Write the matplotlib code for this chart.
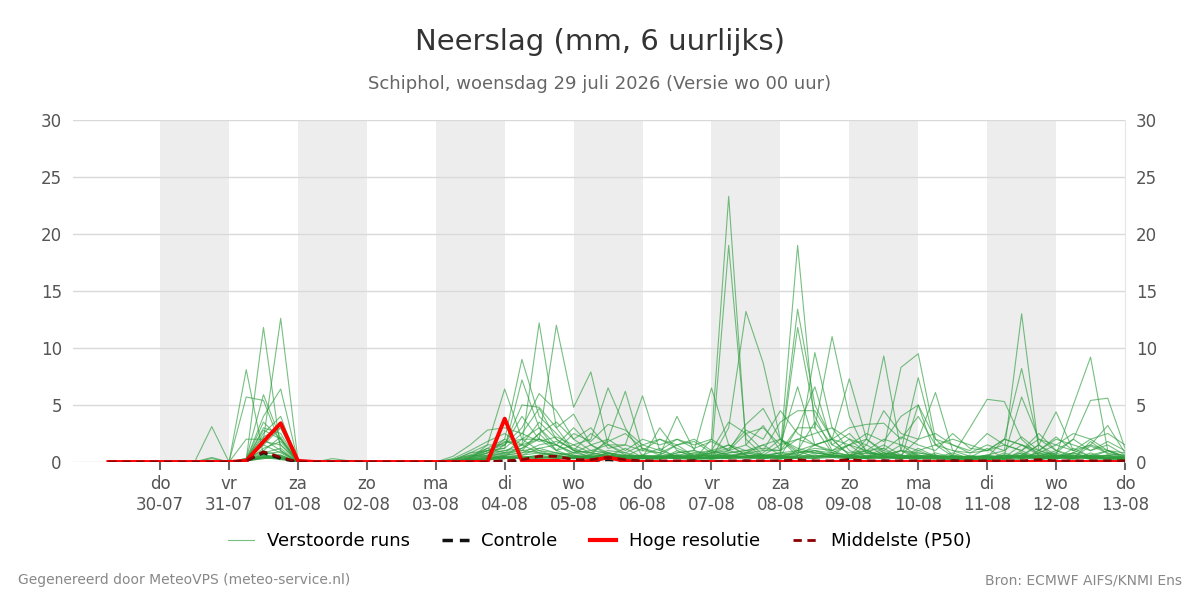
import numpy as np
import pandas as pd
import matplotlib
matplotlib.use("Agg")
import matplotlib.pyplot as plt
from matplotlib.lines import Line2D

# 6-hourly time steps, 29-07 06:00 .. 13-08 00:00
times = pd.date_range("2026-07-29 06:00", "2026-08-13 00:00", freq="6h")

# perturbed ensemble members (mm per 6 h)
members = [
    [0,0,0, 0,0,0,3.1, 0,0.1,0.4,0.2, 0,0,0,0, 0,0,0,0, 0,0,0.3,1.5, 6.4,2.0,3.0,1.0, 0.5,0.3,0.8,0.2, 0.1,0.5,0.3,0.2, 2.0,23.3,1.5,0.5, 0.2,1.0,0.4,0.8, 0.3,0.5,1.2,0.4, 0.2,0.1,0.3,0.5, 0.4,0.2,1.0,0.3, 0.5,0.2,0.8,0.3, 0.2],
    [0,0,0, 0,0,0,0.4, 0,8.1,0.6,0.3, 0.1,0,0,0, 0,0,0,0, 0,0,0.2,0.8, 2.0,9.0,4.0,2.5, 1.0,0.4,0.2,0.6, 0.3,0.2,1.0,0.4, 0.5,19.0,2.0,0.6, 0.3,0.5,1.5,2.0, 0.6,0.3,0.8,0.2, 1.0,0.4,0.2,0.3, 0.1,0.6,0.4,0.8, 0.3,1.2,0.5,0.2, 0.4],
    [0,0,0, 0,0,0,0, 0,0.2,11.8,1.0, 0,0,0,0, 0,0,0,0, 0,0.1,0.5,1.0, 1.2,7.2,3.0,1.5, 0.8,1.5,0.6,0.3, 0.6,1.2,0.4,0.2, 0.3,3.0,13.2,8.7, 2.0,0.8,1.0,0.5, 0.4,1.5,0.6,1.0, 0.3,0.8,0.4,0.2, 0.5,0.3,0.2,1.0, 0.6,0.4,1.4,0.8, 0.3],
    [0,0,0, 0,0,0,0, 0,0,2.0,12.6, 0.2,0,0,0, 0,0,0,0, 0,0,0,0.4, 0.5,1.5,12.2,3.0, 1.0,0.8,0.5,1.2, 0.4,0.3,0.8,1.0, 0.6,0.8,1.0,1.2, 1.0,19.0,3.0,0.8, 1.5,0.4,0.3,1.0, 0.8,0.5,0.3,0.2, 0.3,0.4,1.5,0.6, 0.2,0.8,0.4,1.0, 0.5],
    [0,0,0, 0,0,0,0, 0,5.7,5.4,1.5, 0.1,0,0,0.1, 0,0,0,0, 0,0,0.4,1.2, 0.8,2.0,2.0,12.0, 4.8,7.9,1.5,0.6, 0.5,0.4,0.3,0.8, 0.4,1.0,0.6,0.5, 0.8,13.4,5.0,2.0, 0.6,1.0,0.5,0.3, 0.4,0.2,0.6,0.4, 0.2,0.8,0.3,0.5, 1.0,0.4,0.3,0.6, 0.2],
    [0,0,0, 0,0,0,0, 0,0.3,5.9,2.0, 0,0,0,0, 0,0,0,0, 0,0.2,0.6,0.5, 1.5,3.0,6.0,4.5, 2.0,1.0,0.8,0.4, 0.3,0.6,1.5,0.5, 0.2,0.5,0.8,1.5, 0.6,11.8,4.0,1.0, 2.0,0.8,0.6,1.5, 0.5,0.6,0.2,0.4, 1.2,0.3,0.8,0.2, 0.4,0.3,1.8,0.7, 0.6],
    [0,0,0, 0,0,0,0, 0,0.2,4.0,6.4, 0.1,0,0,0, 0,0,0,0, 0,0,0.3,0.6, 0.8,1.2,2.5,1.0, 1.5,2.0,6.5,3.0, 0.5,0.4,0.6,0.3, 1.0,0.6,0.4,0.8, 2.0,0.5,9.6,3.0, 1.0,0.5,0.8,0.4, 0.6,0.4,0.3,0.2, 0.5,0.2,0.6,1.5, 0.3,0.6,0.2,0.4, 0.3],
    [0,0,0, 0,0,0,0, 0,0.1,2.5,4.0, 0,0,0,0, 0,0,0,0, 0,0,0.2,0.3, 0.6,0.8,1.5,1.8, 1.2,0.6,2.0,6.2, 1.0,0.8,0.4,0.3, 0.8,1.5,0.6,0.4, 0.5,3.0,3.0,11.0, 4.0,0.8,0.6,0.3, 1.2,0.5,0.3,0.2, 0.4,0.6,0.3,0.8, 0.5,0.4,0.3,0.2, 0.1],
    [0,0,0, 0,0,0,0, 0,0.2,3.5,2.0, 0,0,0,0, 0,0,0,0, 0,0,0.4,0.8, 1.0,1.2,2.0,1.5, 0.8,1.0,1.5,1.5, 5.8,1.0,0.5,0.4, 0.3,0.8,1.0,0.6, 0.8,1.0,1.5,2.0, 7.3,2.0,0.8,0.5, 0.6,0.4,0.8,0.3, 0.3,0.5,0.4,0.6, 0.8,0.3,0.5,0.4, 0.2],
    [0,0,0, 0,0,0,0, 0,0.3,2.2,3.0, 0,0,0,0, 0,0,0,0, 0,0.2,0.8,1.5, 1.5,5.0,4.8,3.0, 4.2,1.5,0.8,0.5, 0.6,0.5,0.8,1.0, 6.5,1.5,0.6,0.4, 0.5,0.8,1.0,0.6, 0.4,0.8,1.5,0.6, 0.3,0.6,0.4,0.5, 0.2,0.3,0.5,0.4, 0.6,0.5,0.3,0.4, 0.5],
    [0,0,0, 0,0,0,0, 0,2.0,2.0,1.0, 0,0,0,0, 0,0,0,0, 0,0.5,1.5,2.8, 3.0,2.5,4.7,2.0, 1.0,0.8,0.6,0.4, 0.3,0.4,0.6,0.5, 0.8,1.0,3.3,4.7, 2.0,1.2,0.8,0.6, 0.5,1.0,0.4,0.3, 0.8,0.6,0.4,0.3, 0.6,0.4,0.8,0.3, 0.4,0.3,0.6,1.0, 0.4],
    [0,0,0, 0,0,0,0, 0,0.1,1.2,1.8, 0,0,0,0, 0,0,0,0, 0,0.1,0.3,1.0, 1.7,2.0,1.0,0.8, 0.5,0.6,1.0,0.8, 0.4,3.0,1.0,0.5, 0.6,0.4,0.8,1.0, 1.0,3.0,6.6,1.5, 0.8,1.0,0.5,0.6, 0.4,0.3,0.2,0.4, 0.6,0.3,0.4,0.2, 0.5,0.8,0.3,0.4, 0.3],
    [0,0,0, 0,0,0,0, 0,0.1,0.8,1.2, 0,0,0.1,0, 0,0,0,0, 0,0,0.2,0.5, 0.8,1.0,1.2,1.5, 0.6,0.4,0.8,0.5, 1.2,0.6,4.0,1.0, 0.5,0.6,0.8,0.6, 1.5,6.6,1.5,0.8, 0.6,0.4,1.0,0.5, 0.5,0.4,0.3,0.6, 0.4,0.6,0.5,0.3, 0.3,0.4,0.6,0.5, 0.3],
    [0,0,0, 0,0,0,0, 0,0.2,1.5,0.8, 0,0,0,0, 0,0,0,0, 0,0,0.3,0.6, 1.0,1.5,0.8,0.6, 0.8,0.5,0.6,0.4, 0.3,0.5,0.6,0.8, 1.0,0.6,0.4,0.5, 0.6,0.8,1.2,1.0, 0.5,2.0,9.3,1.0, 0.6,0.4,0.5,0.3, 0.2,0.4,0.6,0.4, 0.5,0.3,0.4,0.6, 0.4],
    [0,0,0, 0,0,0,0, 0,0.1,0.6,0.5, 0,0,0,0, 0,0,0,0, 0,0,0.2,0.4, 0.6,0.8,1.0,0.5, 0.5,0.4,0.8,0.6, 0.4,0.3,0.5,0.6, 0.8,0.5,0.4,0.6, 0.5,1.0,0.8,0.6, 1.5,1.0,1.2,8.3, 9.5,2.0,0.6,0.4, 0.3,0.5,0.4,0.3, 0.6,0.4,0.5,0.3, 0.2],
    [0,0,0, 0,0,0,0, 0,0.2,0.9,0.6, 0,0,0,0, 0,0,0,0, 0,0,0.1,0.5, 0.7,1.0,0.8,0.6, 0.4,0.6,0.5,0.3, 0.6,0.4,0.3,0.5, 0.6,0.4,0.8,0.5, 0.8,0.6,1.0,0.8, 0.6,0.8,0.6,1.0, 7.4,1.5,0.5,0.3, 0.4,0.3,0.6,0.5, 0.3,0.6,0.4,0.5, 0.3],
    [0,0,0, 0,0,0,0, 0,0.1,0.7,0.9, 0,0,0,0, 0,0,0,0, 0,0,0.2,0.3, 0.5,0.6,1.2,0.8, 0.6,0.3,0.5,0.4, 0.5,0.6,0.4,0.3, 0.4,0.5,0.6,0.4, 0.6,0.4,0.8,0.6, 0.5,0.4,0.8,0.6, 2.0,6.1,1.0,0.5, 0.3,0.4,0.3,0.6, 0.4,0.5,0.3,0.4, 0.2],
    [0,0,0, 0,0,0,0, 0,0.1,0.5,0.4, 0,0,0,0, 0,0,0,0, 0,0,0.1,0.4, 0.4,0.6,0.8,0.5, 0.4,0.5,0.4,0.3, 0.3,0.5,0.4,0.6, 0.5,0.3,0.4,0.6, 0.4,0.5,0.6,0.4, 0.6,0.5,0.4,0.3, 0.5,0.4,0.6,3.0, 5.5,5.3,2.0,0.6, 0.4,0.3,0.5,0.6, 0.3],
    [0,0,0, 0,0,0,0, 0,0.1,0.4,0.6, 0,0,0,0, 0,0,0,0, 0,0,0.1,0.3, 0.5,0.4,0.6,0.8, 0.5,0.4,0.6,0.5, 0.4,0.3,0.5,0.4, 0.3,0.4,0.5,0.6, 0.5,0.6,0.4,0.5, 0.4,0.6,0.5,0.4, 0.3,0.4,0.5,0.4, 0.6,1.0,13.0,1.0, 0.5,0.4,0.6,0.3, 0.4],
    [0,0,0, 0,0,0,0, 0,0.2,0.6,0.3, 0,0,0,0, 0,0,0,0, 0,0,0.2,0.2, 0.4,0.5,0.4,0.6, 0.3,0.4,0.3,0.6, 0.5,0.4,0.6,0.3, 0.5,0.6,0.4,0.3, 0.4,0.3,0.5,0.6, 0.5,0.3,0.4,0.6, 0.4,0.3,0.4,0.5, 0.4,2.0,8.2,1.5, 0.6,0.5,0.4,0.3, 0.3],
    [0,0,0, 0,0,0,0, 0,0.1,0.3,0.5, 0,0,0,0, 0,0,0,0, 0,0,0,0.2, 0.3,0.4,0.5,0.3, 0.4,0.3,0.5,0.4, 0.3,0.4,0.3,0.5, 0.4,0.3,0.5,0.4, 0.3,0.4,0.6,0.5, 0.4,0.3,0.6,0.4, 0.5,0.4,0.3,0.4, 0.3,0.6,5.7,2.0, 1.0,0.6,0.5,0.3, 0.4],
    [0,0,0, 0,0,0,0, 0,0.1,0.5,0.4, 0,0,0,0, 0,0,0,0, 0,0,0.1,0.3, 0.4,0.3,0.6,0.4, 0.3,0.5,0.4,0.3, 0.4,0.3,0.4,0.5, 0.3,0.5,0.4,0.3, 0.5,0.4,0.3,0.6, 0.4,0.5,0.3,0.4, 0.3,0.5,0.4,0.3, 0.4,0.3,0.5,1.5, 4.4,1.0,0.5,0.4, 0.3],
    [0,0,0, 0,0,0,0, 0,0.1,0.4,0.3, 0,0,0,0, 0,0,0,0, 0,0,0.1,0.2, 0.3,0.4,0.3,0.5, 0.4,0.3,0.4,0.3, 0.3,0.4,0.5,0.3, 0.4,0.3,0.4,0.5, 0.3,0.4,0.5,0.4, 0.3,0.4,0.5,0.3, 0.4,0.3,0.5,0.4, 0.3,0.4,0.6,0.5, 0.6,5.0,9.2,1.0, 0.3],
    [0,0,0, 0,0,0,0, 0,0.1,0.3,0.4, 0,0,0,0, 0,0,0,0, 0,0,0.1,0.3, 0.4,0.3,0.4,0.3, 0.3,0.4,0.3,0.4, 0.4,0.3,0.4,0.3, 0.3,0.4,0.3,0.4, 0.4,0.3,0.4,0.5, 0.4,0.3,0.4,0.5, 0.3,0.4,0.3,0.4, 0.5,0.3,0.4,0.3, 0.8,2.0,5.4,5.6, 1.2],
    [0,0,0, 0,0,0,0, 0,0.1,0.4,0.3, 0,0,0,0, 0,0,0,0, 0,0,0.1,0.2, 0.3,0.4,0.3,0.4, 0.3,0.4,0.3,0.5, 0.4,0.3,0.5,0.4, 0.3,0.5,0.4,0.3, 0.5,0.4,0.3,0.4, 0.3,0.5,0.4,0.3, 5.0,0.5,0.4,0.3, 0.4,0.3,0.5,0.4, 0.3,0.8,1.5,3.2, 0.8],
    [0,0,0, 0,0,0,0, 0,0.3,1.0,2.2, 0,0,0,0, 0,0,0,0, 0,0.3,1.0,1.8, 2.5,1.5,3.5,2.0, 1.0,2.5,1.5,0.8, 1.5,2.0,1.2,0.6, 1.0,3.5,2.5,1.0, 3.5,4.5,4.5,2.0, 3.0,3.3,3.4,2.0, 4.0,1.5,1.0,0.8, 1.0,2.0,1.5,0.8, 1.5,2.5,2.0,1.0, 0.8],
    [0,0,0, 0,0,0,0, 0,0.2,1.8,1.5, 0,0,0,0, 0,0,0,0, 0,0.1,0.8,1.0, 1.5,4.0,2.0,1.5, 3.0,1.5,2.0,1.0, 2.0,1.5,2.0,1.2, 1.8,1.0,2.5,3.0, 1.5,2.0,2.5,3.0, 2.0,1.5,4.5,2.5, 2.0,2.5,1.5,1.0, 2.5,1.5,1.0,2.0, 1.5,1.0,2.0,2.5, 1.5],
    [0,0,0, 0,0,0,0, 0,0.2,2.8,2.0, 0.1,0,0.3,0.1, 0,0,0,0, 0,0.2,0.6,1.2, 2.0,1.0,2.5,3.5, 2.0,3.0,1.2,1.5, 1.0,2.0,1.5,1.8, 0.8,1.2,2.8,2.0, 4.5,2.5,1.5,2.0, 1.5,2.5,1.8,4.0, 5.0,2.0,1.5,0.8, 1.5,1.0,2.2,1.0, 2.0,1.5,1.0,1.8, 1.0],
    [0,0,0, 0,0,0,0.3, 0,0.1,1.5,3.0, 0,0,0,0, 0,0,0,0, 0,0.1,0.5,1.0, 1.2,2.5,1.8,2.2, 1.5,0.8,1.8,2.5, 1.2,0.8,1.5,2.0, 1.0,1.5,1.0,1.5, 2.0,1.0,3.5,1.5, 2.5,1.0,2.0,1.5, 1.0,1.5,2.0,1.5, 1.0,1.5,1.0,2.5, 1.0,2.0,1.0,1.5, 0.6],
    [0,0,0, 0,0,0,0, 0,0.1,3.0,2.5, 0,0,0,0, 0,0,0,0, 0,0,0.4,0.8, 1.8,1.5,2.0,1.0, 2.5,1.8,3.3,2.8, 1.5,1.0,2.0,1.5, 2.0,1.0,1.5,3.2, 1.0,2.0,1.5,1.0, 1.5,2.0,1.0,2.2, 1.5,1.0,2.5,1.2, 1.0,2.0,1.5,1.0, 2.2,1.0,1.5,1.0, 0.5],
]

control = [0,0,0, 0,0,0,0, 0,0.1,0.8,0.3, 0,0,0,0, 0,0,0,0, 0,0,0,0, 0.1,0,0.1,0.1, 0,0.1,0.2,0.1, 0,0,0,0.1, 0,0,0.1,0, 0,0.1,0,0, 0.2,0,0.1,0, 0,0,0.1,0, 0,0,0,0.1, 0,0.1,0,0, 0]
high_res = [0,0,0, 0,0,0,0, 0,0.1,1.8,3.4, 0.1,0,0,0, 0,0,0,0, 0,0,0,0, 3.8,0.1,0.1,0.1, 0,0.1,0.4,0.1, 0,0,0,0, 0,0,0,0, 0,0,0,0, 0,0,0,0, 0,0,0,0, 0,0,0,0, 0,0,0,0, 0]
p50 = [0,0,0, 0,0,0,0, 0,0.1,0.9,0.4, 0,0,0,0, 0,0,0,0, 0,0,0,0, 0.1,0.2,0.5,0.5, 0.2,0.2,0.4,0.2, 0.1,0.1,0.1,0.1, 0,0.1,0.1,0.1, 0.1,0.2,0.1,0.1, 0.2,0.1,0.1,0.1, 0.1,0.1,0.1,0.1, 0.1,0.1,0.1,0.2, 0.1,0.1,0.1,0.1, 0.1]

day_names = ["do", "vr", "za", "zo", "ma", "di", "wo", "do", "vr", "za", "zo", "ma", "di", "wo", "do"]
tick_days = pd.date_range("2026-07-30", "2026-08-13", freq="D")
shaded_starts = pd.date_range("2026-07-30", "2026-08-11", freq="2D")

title = "Neerslag (mm, 6 uurlijks)"
subtitle = "Schiphol, woensdag 29 juli 2026 (Versie wo 00 uur)"

plt.rcParams['font.family'] = ['DejaVu Sans']
fig = plt.figure(figsize=(12, 6), dpi=100)
ax = fig.add_axes([0.0608, 0.23, 0.8767, 0.57])

for s in shaded_starts:
    ax.axvspan(s, s + pd.Timedelta(days=1), color="#ededed", lw=0, zorder=0)

for m in members:
    ax.plot(times, m, color="#2e9e3e", lw=0.8, alpha=0.65, zorder=2)
ax.plot(times, control, color="#111111", lw=2, ls=(0, (3, 2)), zorder=4)
ax.plot(times, high_res, color="#ff0000", lw=2.8, zorder=5)
ax.plot(times, p50, color="#8b0000", lw=2, ls=(0, (3, 2)), zorder=6)

ax.set_xlim(pd.Timestamp("2026-07-28 17:40"), pd.Timestamp("2026-08-13 00:00"))
ax.set_ylim(0, 30)
ax.set_yticks(range(0, 31, 5))
ax.grid(axis="y", color="#d9d9d9", lw=1, zorder=1)
ax.set_axisbelow(True)
ax.set_xticks(tick_days)
ax.set_xticklabels([f"{d}\n{t.strftime('%d-%m')}" for d, t in zip(day_names, tick_days)])
ax.tick_params(axis="x", colors="#666666", labelcolor="#555555", labelsize=12, length=6, width=1.5)
ax.tick_params(axis="y", length=0, labelsize=12, labelcolor="#555555", pad=8)
for side in ["left", "top", "bottom"]:
    ax.spines[side].set_visible(False)
ax.spines["right"].set_color("#e6e6e6")

ax2 = ax.twinx()
ax2.set_ylim(0, 30)
ax2.set_yticks(range(0, 31, 5))
ax2.tick_params(axis="y", length=0, labelsize=12, labelcolor="#555555", pad=8)
for side in ["left", "top", "bottom", "right"]:
    ax2.spines[side].set_visible(False)

fig.text(0.5, 0.93, title, ha="center", va="center", fontsize=21, color="#333333")
fig.text(0.5, 0.86, subtitle, ha="center", va="center", fontsize=13, color="#666666")

handles = [
    Line2D([], [], color="#2e9e3e", lw=0.8, alpha=0.65),
    Line2D([], [], color="#111111", lw=2.5, ls=(0, (3, 2))),
    Line2D([], [], color="#ff0000", lw=3),
    Line2D([], [], color="#8b0000", lw=2, ls=(0, (3, 2))),
]
labels = ["Verstoorde runs", "Controle", "Hoge resolutie", "Middelste (P50)"]
fig.legend(handles, labels, loc="center", bbox_to_anchor=(0.5, 0.098), ncol=4,
           frameon=False, fontsize=13, handlelength=1.45, handletextpad=0.7,
           columnspacing=1.8)

fig.text(0.015, 0.033, "Gegenereerd door MeteoVPS (meteo-service.nl)", ha="left", va="center",
         fontsize=10, color="#888888")
fig.text(0.985, 0.033, "Bron: ECMWF AIFS/KNMI Ens", ha="right", va="center",
         fontsize=10, color="#888888")

fig.savefig("out.png", dpi=100)
